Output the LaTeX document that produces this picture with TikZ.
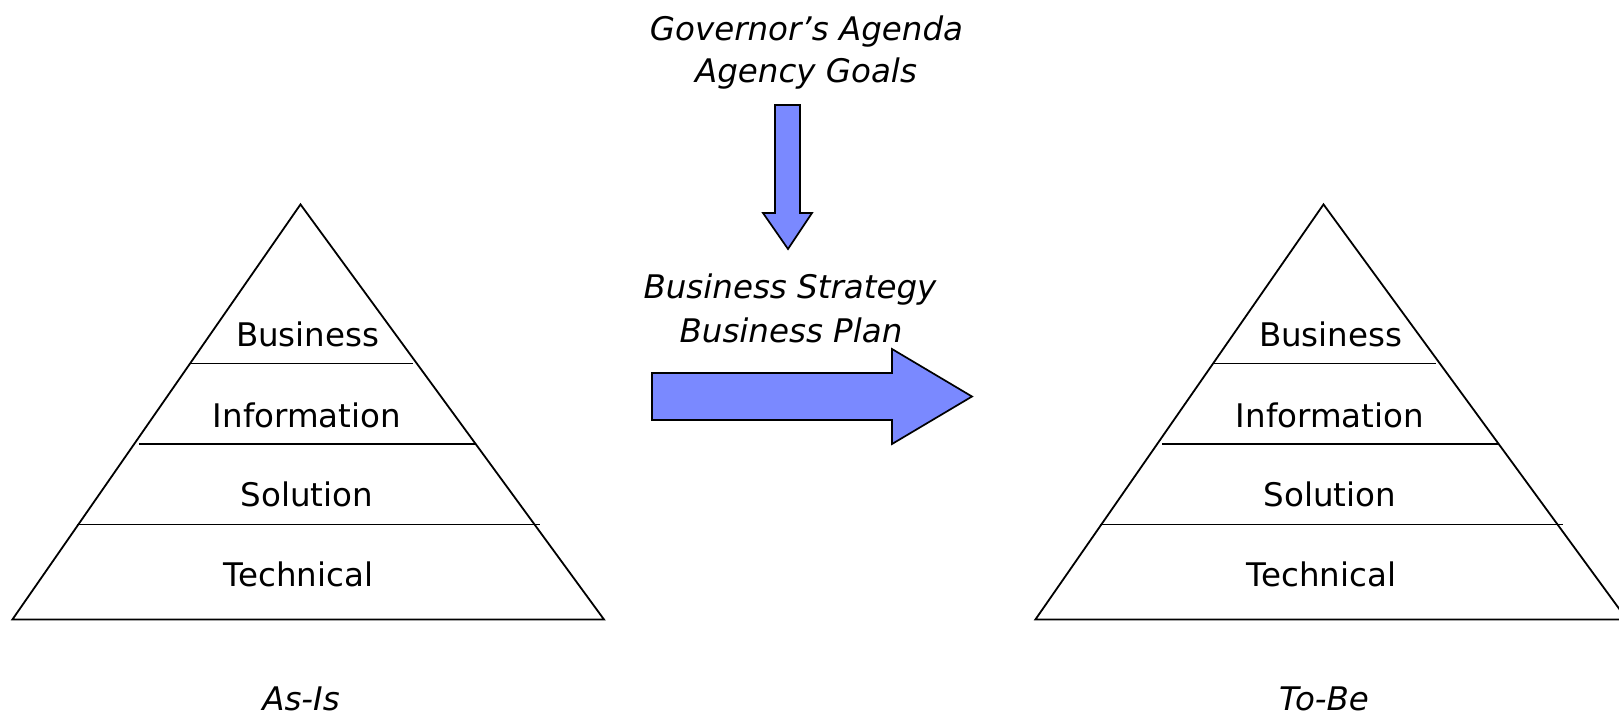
\documentclass[tikz,border=0pt]{standalone}
\usepackage{fontspec}
\setmainfont{DejaVu Sans}
\begin{document}
\begin{tikzpicture}[x=1pt,y=-1pt,
  pyr/.style={draw=black,line width=1.8pt,line join=miter},
  lbl/.style={anchor=base,inner sep=0pt,font=\fontsize{32.5}{39}\selectfont},
  ital/.style={anchor=base,inner sep=0pt,font=\fontsize{32.5}{39}\selectfont\itshape},
  blockarrow/.style={draw=black,line width=1.7pt,fill=arrowblue,line join=miter}]
\definecolor{arrowblue}{RGB}{122,137,255}
\useasboundingbox (0,0) rectangle (1619,720);
% left pyramid (As-Is)
\draw[pyr] (300.5,204.4) -- (12.4,619.5) -- (604,619.5) -- cycle;
\draw[pyr] (189,363.5) -- (413,363.5);
\draw[pyr] (139.4,444) -- (475,444);
\draw[pyr] (77.4,524.5) -- (540,524.5);
\node[lbl] (lbus) at (307.7,346) {Business};
\node[lbl] (linf) at (307,427) {Information};
\node[lbl] (lsol) at (306.7,506) {Solution};
\node[lbl] (ltec) at (298.5,586) {Technical};
\node[ital] (asis) at (301,710) {As-Is};
% right pyramid (To-Be)
\begin{scope}[xshift=1023pt]
\draw[pyr] (300.5,204.4) -- (12.4,619.5) -- (604,619.5) -- cycle;
\draw[pyr] (189,363.5) -- (413,363.5);
\draw[pyr] (139.4,444) -- (475,444);
\draw[pyr] (77.4,524.5) -- (540,524.5);
\node[lbl] (rbus) at (307.7,346) {Business};
\node[lbl] (rinf) at (307,427) {Information};
\node[lbl] (rsol) at (306.7,506) {Solution};
\node[lbl] (rtec) at (298.5,586) {Technical};
\node[ital] (tobe) at (301,710) {To-Be};
\end{scope}
% top texts
\node[ital] (gov) at (806.5,40) {Governor’s Agenda};
\node[ital] (goals) at (806,82) {Agency Goals};
\node[ital] (strat) at (790,298) {Business Strategy};
\node[ital] (plan) at (791,342) {Business Plan};
% block arrows
\draw[blockarrow] (775,105) -- (800,105) -- (800,213) -- (812,213) -- (788,249) -- (763,213) -- (775,213) -- cycle;
\draw[blockarrow] (652,373) -- (892,373) -- (892,349) -- (972,396.5) -- (892,444) -- (892,420) -- (652,420) -- cycle;
\end{tikzpicture}
\end{document}
